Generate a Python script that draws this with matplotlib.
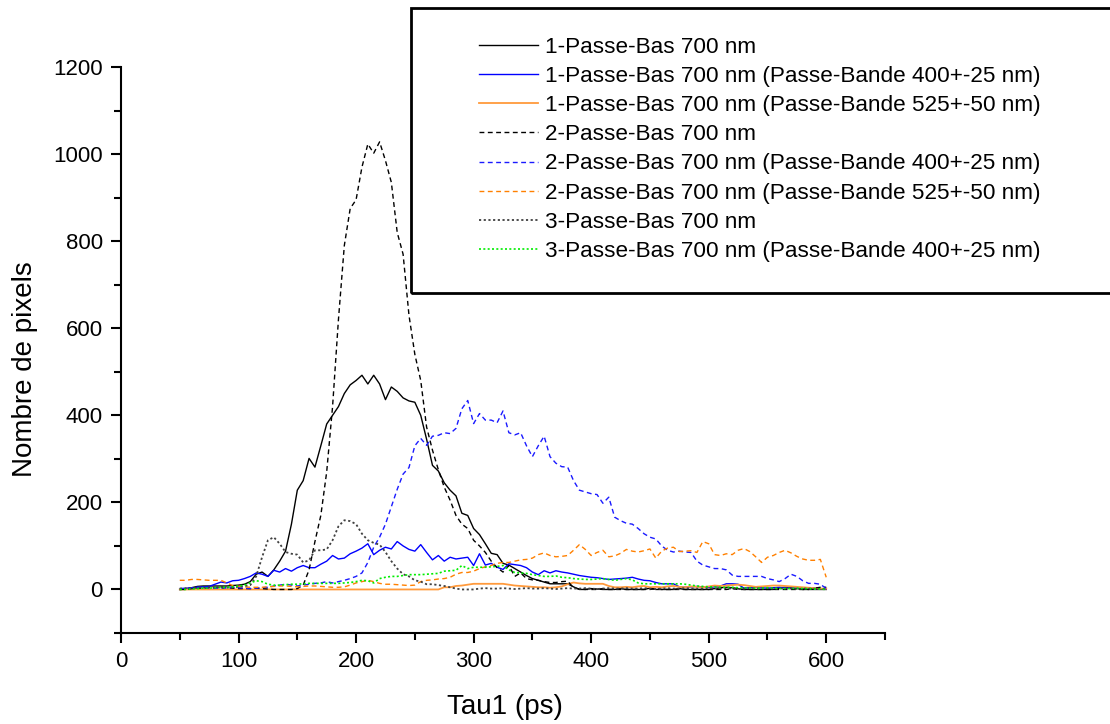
import matplotlib
matplotlib.use("Agg")
import matplotlib.pyplot as plt
import numpy as np
from matplotlib.patches import Rectangle

plt.rcParams['font.family'] = ['Liberation Sans', 'DejaVu Sans']

# Tau1 grid (ps)
tau = np.arange(50, 601, 5)

# 1-Passe-Bas 700 nm
pb1_700 = [0, 2, 4, 7, 8, 8, 8, 8, 8, 9, 10, 12, 18, 35, 40, 30, 45, 65, 88, 150,
           228, 250, 301, 281, 330, 380, 400, 420, 450, 470, 480, 492, 472, 492, 472, 436, 465, 455, 440, 433,
           430, 400, 345, 285, 272, 245, 228, 215, 175, 170, 140, 126, 105, 83, 80, 60, 56, 48, 40, 32,
           25, 21, 17, 13, 13, 13, 13, 6, 0, 0, 2, 1, 0, 0, 0, 2, 0, 0, 0, 0,
           3, 0, 0, 0, 0, 2, 0, 0, 0, 0, 0, 2, 4, 5, 4, 2, 0, 0, 0, 0,
           0, 0, 3, 5, 4, 2, 0, 0, 0, 0, 0]
# 1-Passe-Bas 700 nm (Passe-Bande 400+-25 nm)
pb1_400 = [0, 2, 3, 5, 6, 7, 12, 17, 15, 20, 21, 25, 30, 38, 35, 30, 44, 40, 48, 42,
           50, 55, 50, 50, 58, 65, 78, 70, 72, 82, 88, 95, 105, 80, 90, 97, 93, 110, 100, 92,
           88, 103, 85, 68, 78, 65, 74, 70, 72, 74, 55, 82, 56, 60, 51, 46, 59, 57, 55, 50,
           40, 34, 43, 38, 43, 40, 38, 35, 32, 30, 28, 27, 25, 23, 24, 25, 26, 28, 24, 21,
           20, 16, 13, 13, 13, 6, 5, 6, 7, 6, 5, 6, 8, 13, 13, 12, 3, 4, 5, 4,
           3, 4, 5, 4, 3, 4, 3, 3, 2, 2, 1]
# 1-Passe-Bas 700 nm (Passe-Bande 525+-50 nm)
pb1_525 = [0] * 45 + [5, 5, 8, 9, 11, 13, 13, 13, 13, 13, 13, 11, 9, 8, 7, 6, 5, 5, 4, 5,
                      7, 12, 16, 14, 13, 13, 13, 13, 8, 5, 5, 6, 5, 7, 8, 5, 6, 5, 7, 8,
                      6, 5, 7, 6, 5, 7, 9, 8, 9, 10, 11, 10, 8, 6, 7, 8, 9, 9, 8, 7,
                      6, 5, 4, 3, 2, 2]
# 2-Passe-Bas 700 nm
pb2_700 = [0, 0, 2, 3, 3, 4, 4, 5, 4, 3, 2, 2, 2, 3, 2, 1, 0, 0, 0, 0,
           2, 10, 45, 110, 170, 270, 420, 620, 790, 875, 895, 970, 1023, 1002, 1028, 985, 935, 820, 770, 630,
           540, 480, 373, 320, 275, 235, 205, 170, 150, 140, 113, 100, 85, 65, 50, 40, 55, 30, 38, 25,
           22, 21, 18, 16, 16, 18, 19, 4, 1, 0, 0, 0, 2, 0, 0, 0, 0, 0, 0, 0,
           0, 2, 0, 0, 0, 0, 0, 0, 0, 0, 0, 0, 0, 0, 2, 0, 0, 0, 0, 0,
           0, 0, 0, 0, 0, 0, 0, 0, 3, 5, 5]
# 2-Passe-Bas 700 nm (Passe-Bande 400+-25 nm)
pb2_400 = [2, 3, 4, 5, 5, 4, 3, 3, 4, 5, 4, 3, 2, 3, 4, 5, 8, 10, 12, 10,
           8, 10, 12, 14, 15, 18, 15, 18, 21, 25, 30, 38, 62, 97, 120, 150, 190, 230, 265, 280,
           330, 347, 331, 352, 354, 360, 358, 370, 415, 434, 381, 404, 389, 389, 383, 410, 360, 355, 360, 330,
           305, 330, 352, 305, 290, 282, 281, 250, 228, 224, 220, 218, 198, 212, 166, 158, 152, 150, 140, 128,
           120, 116, 100, 90, 86, 88, 86, 85, 65, 56, 52, 48, 48, 45, 33, 30, 30, 30, 30, 30,
           25, 22, 18, 25, 35, 30, 20, 14, 14, 12, 2]
# 2-Passe-Bas 700 nm (Passe-Bande 525+-50 nm)
pb2_525 = [21, 21, 23, 23, 22, 21, 21, 21, 15, 9, 7, 6, 5, 5, 5, 6, 7, 8, 8, 7,
           6, 7, 8, 8, 7, 6, 5, 5, 6, 10, 15, 18, 21, 18, 14, 12, 12, 11, 10, 9,
           10, 18, 21, 22, 24, 25, 28, 35, 39, 39, 42, 48, 52, 55, 60, 62, 62, 65, 68, 69,
           72, 80, 84, 78, 75, 76, 78, 90, 103, 92, 78, 85, 90, 75, 77, 83, 92, 88, 86, 89,
           93, 72, 88, 95, 97, 87, 88, 89, 85, 110, 105, 80, 78, 82, 80, 90, 94, 87, 75, 62,
           74, 78, 85, 90, 84, 76, 70, 67, 67, 69, 28]
# 3-Passe-Bas 700 nm
pb3_700 = [2, 3, 3, 4, 4, 5, 5, 4, 4, 5, 6, 8, 10, 30, 74, 113, 120, 105, 86, 82,
           80, 62, 67, 90, 90, 92, 113, 145, 159, 157, 150, 128, 113, 107, 103, 86, 65, 48, 35, 30,
           21, 18, 12, 12, 10, 8, 5, 2, 0, 0, 0, 2, 3, 2, 2, 3, 2, 1, 2, 3,
           2, 2, 3, 2, 1, 2, 3, 2, 2, 3, 2, 1, 2, 3, 2, 2, 3, 2, 2, 3,
           2, 1, 2, 3, 2, 2, 3, 2, 2, 2, 3, 2, 2, 3, 2, 1, 2, 3, 2, 2,
           3, 2, 2, 3, 2, 1, 2, 2, 2, 1, 1]
# 3-Passe-Bas 700 nm (Passe-Bande 400+-25 nm)
pb3_400 = [0, 0, 1, 2, 3, 3, 4, 5, 5, 6, 8, 10, 15, 20, 18, 12, 10, 10, 11, 12,
           12, 13, 14, 14, 14, 14, 14, 14, 15, 16, 18, 21, 20, 15, 25, 28, 30, 30, 32, 34,
           34, 34, 35, 36, 37, 42, 43, 44, 55, 48, 51, 51, 51, 52, 53, 55, 45, 39, 38, 37,
           34, 32, 30, 30, 31, 28, 27, 25, 24, 23, 23, 24, 25, 23, 21, 23, 25, 22, 15, 13,
           13, 13, 13, 13, 13, 13, 12, 10, 8, 7, 6, 6, 5, 5, 5, 4, 4, 3, 3, 3,
           4, 3, 2, 2, 2, 3, 2, 2, 1, 1, 0]

series = [
    (pb1_700, "1-Passe-Bas 700 nm", "k", "-", 1.0),
    (pb1_400, "1-Passe-Bas 700 nm (Passe-Bande 400+-25 nm)", "#0000ff", "-", 1.0),
    (pb1_525, "1-Passe-Bas 700 nm (Passe-Bande 525+-50 nm)", "#ff9a3c", "-", 1.3),
    (pb2_700, "2-Passe-Bas 700 nm", "k", (0, (3.5, 2.5)), 1.0),
    (pb2_400, "2-Passe-Bas 700 nm (Passe-Bande 400+-25 nm)", "#1a1aff", (0, (3.5, 2.5)), 1.0),
    (pb2_525, "2-Passe-Bas 700 nm (Passe-Bande 525+-50 nm)", "#ff8000", (0, (3.5, 2.5)), 1.0),
    (pb3_700, "3-Passe-Bas 700 nm", "#404040", (0, (1.2, 1.4)), 1.3),
    (pb3_400, "3-Passe-Bas 700 nm (Passe-Bande 400+-25 nm)", "#00ee00", (0, (1.2, 1.4)), 1.2),
]

fig = plt.figure(figsize=(11.10, 7.24), dpi=100)
ax = fig.add_axes([121/1110, 1 - 633/724, (885 - 121)/1110, (633 - 67)/724])

for vals, lab, col, ls, lw in series:
    ax.plot(tau, vals, color=col, linestyle=ls, linewidth=lw, label=lab)

ax.set_xlim(0, 650)
ax.set_ylim(-100, 1200)
ax.set_xticks(np.arange(0, 601, 100))
ax.set_xticks(np.arange(50, 651, 100), minor=True)
ax.set_yticks(np.arange(0, 1201, 200))
ax.set_yticks(np.arange(-100, 1200, 200), minor=True)
ax.spines['top'].set_visible(False)
ax.spines['right'].set_visible(False)
ax.spines['left'].set_linewidth(1.5)
ax.spines['bottom'].set_linewidth(1.5)
ax.tick_params(which='major', direction='out', length=7, width=1.5, labelsize=16, pad=6)
ax.tick_params(which='minor', direction='out', length=5, width=1.5)
ax.set_xlabel("Tau1 (ps)", fontsize=20)
ax.set_ylabel("Nombre de pixels", fontsize=20)
ax.xaxis.set_label_coords(0.503, -0.108)
ax.yaxis.set_label_coords(-0.108, 0.466)

# legend box (extends past the right edge of the figure)
fig.patches.append(Rectangle((411/1110, 1 - 293/724), 720/1110, 285/724,
                             transform=fig.transFigure, fill=False,
                             edgecolor='k', linewidth=2, clip_on=False))
fig.legend(loc='upper left', bbox_to_anchor=(479/1110, 1 - 37/724),
           frameon=False, fontsize=16.2, handlelength=2.6, handletextpad=0.35,
           labelspacing=0.36, borderpad=0, borderaxespad=0)

fig.savefig("out.png", dpi=100)
